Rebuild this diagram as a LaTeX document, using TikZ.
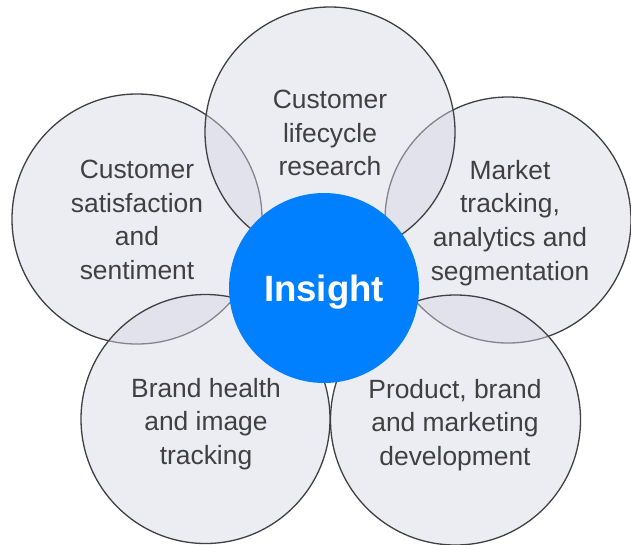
\documentclass[tikz,border=0pt]{standalone}
\usepackage{fontspec}
\setmainfont{Liberation Sans}
\begin{document}
\definecolor{petalfill}{RGB}{215,215,229}
\definecolor{petalline}{RGB}{64,64,64}
\definecolor{petaltext}{RGB}{64,64,64}
\definecolor{hubblue}{RGB}{0,128,255}
\begin{tikzpicture}[x=1pt,y=-1pt,
  petal/.style={circle,inner sep=0pt,minimum size=#1,draw=petalline,line width=1.3pt,
    fill=petalfill,fill opacity=0.45,draw opacity=1},
  petaltxt/.style={anchor=north,inner sep=0pt,align=center,text=petaltext,
    font=\fontsize{26.4}{33.6}\selectfont},
  hub/.style={circle,inner sep=0pt,minimum size=190pt,fill=hubblue},
  hubtxt/.style={anchor=base,inner sep=0pt,text=white,
    font=\fontsize{36.6}{40}\selectfont\bfseries}]
\useasboundingbox (0,0) rectangle (631,544);
\fill[white] (0,0) rectangle (631,544);

% outer petals, drawn in stacking order
\node[petal=250pt] (sat)  at (137,219)   {};
\node[petal=246pt] (mkt)  at (508,220)   {};
\node[petal=249pt] (brd)  at (205.5,419) {};
\node[petal=250pt] (prd)  at (455.5,420) {};
\node[petal=250pt] (life) at (330,132)   {};

% petal labels
\node[petaltxt] (lifet) at (330,90)  {Customer\\lifecycle\\research};
\node[petaltxt] (satt)  at (137,160) {Customer\\satisfaction\\and\\sentiment};
\node[petaltxt] (mktt)  at (510,160) {Market\\tracking,\\analytics and\\segmentation};
\node[petaltxt] (brdt)  at (206,378) {Brand health\\and image\\tracking};
\node[petaltxt] (prdt)  at (455,379) {Product, brand\\and marketing\\development};

% centre
\node[hub] (hubc) at (324,288) {};
\node[hubtxt] (hubt) at (324,301) {Insight};
\end{tikzpicture}
\end{document}
